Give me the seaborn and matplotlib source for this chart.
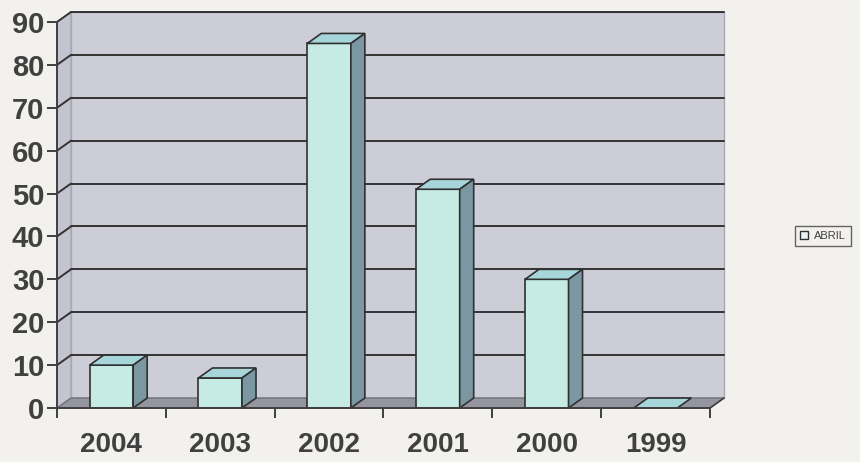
'''
3D style bar chart of ABRIL values per year
'''
import pandas as pd
import matplotlib.pyplot as plt
import seaborn as sns
from matplotlib.patches import Polygon, Patch

# Data
years = ['2004', '2003', '2002', '2001', '2000', '1999']
abril = [10, 7, 85, 51, 30, 0]
y_ticks = list(range(0, 100, 10))

df = pd.DataFrame({'Year': years, 'ABRIL': abril})

sns.set_style('white')
plt.rcParams['font.family'] = ['Liberation Sans', 'DejaVu Sans']

# colours
bg = '#f3f1ee'
wall = '#cdcdd8'
floor = '#95959f'
front = '#c6ebe4'
top = '#a6d6da'
side = '#7b98a2'
edge = '#303030'
text_col = '#404040'

fig = plt.figure(figsize=(8.6, 4.62), dpi=100, facecolor=bg)
ax = fig.add_axes([57 / 860, 1 - 408 / 462, 653 / 860, 386 / 462])

sns.barplot(data=df, x='Year', y='ABRIL', color=front, saturation=1,
            width=0.4, edgecolor=edge, linewidth=1.2, ax=ax, zorder=3)
bars = list(ax.patches)

ax.set_xlim(-0.5, 5.5)
ax.set_ylim(0, 90)
ax.patch.set_visible(False)

# depth of the 3D effect in data units (14 px right, 10 px up)
dx = 14 / (653 / 6)
dy = 10 / (386 / 90)
x0, x1 = -0.5, 5.5
ymax = 90

# back wall, left wall and floor
ax.add_patch(Polygon([(x0 + dx, dy), (x1 + dx, dy), (x1 + dx, ymax + dy), (x0 + dx, ymax + dy)],
                     closed=True, facecolor=wall, edgecolor='#a8a8b4', lw=1, zorder=0.5, clip_on=False))
ax.add_patch(Polygon([(x0, 0), (x0, ymax), (x0 + dx, ymax + dy), (x0 + dx, dy)],
                     closed=True, facecolor='#c3c4d0', edgecolor='#a8a8b4', lw=1, zorder=0.6, clip_on=False))
ax.add_patch(Polygon([(x0, 0), (x1, 0), (x1 + dx, dy), (x0 + dx, dy)],
                     closed=True, facecolor=floor, edgecolor='#707078', lw=1, zorder=0.7, clip_on=False))

# gridlines on the back wall plus diagonals on the left wall
for v in y_ticks[1:]:
    ax.plot([x0 + dx, x1 + dx], [v + dy, v + dy], color='#333333', lw=1.4, zorder=0.8, clip_on=False)
    ax.plot([x0, x0 + dx], [v, v + dy], color='#333333', lw=1.4, zorder=0.8, clip_on=False)
ax.plot([x1, x1 + dx], [0, dy], color='#404040', lw=1.2, zorder=0.8, clip_on=False)

# top and side faces of each bar
for b in bars:
    bx, by = b.get_x(), b.get_y()
    bw, bh = b.get_width(), b.get_height()
    ax.add_patch(Polygon([(bx, by + bh), (bx + bw, by + bh), (bx + bw + dx, by + bh + dy), (bx + dx, by + bh + dy)],
                         closed=True, facecolor=top, edgecolor=edge, lw=1.2, zorder=3, clip_on=False))
    if bh > 0:
        ax.add_patch(Polygon([(bx + bw, by), (bx + bw + dx, by + dy), (bx + bw + dx, by + bh + dy), (bx + bw, by + bh)],
                             closed=True, facecolor=side, edgecolor=edge, lw=1.2, zorder=3, clip_on=False))

# axes look
sns.despine(ax=ax, top=True, right=True)
for s in ['left', 'bottom']:
    ax.spines[s].set_color('#404040')
    ax.spines[s].set_linewidth(1.4)
    ax.spines[s].set_zorder(4)

ax.set_yticks(y_ticks)
ax.set_yticklabels([str(v) for v in y_ticks])
ax.set_xticks(range(len(years)))
ax.set_xticklabels(years)
ax.set_xticks([i - 0.5 for i in range(len(years) + 1)], minor=True)
ax.tick_params(axis='y', which='major', left=True, length=7, width=1.4, color='#404040',
               labelsize=21, labelcolor=text_col, pad=2)
ax.tick_params(axis='x', which='major', bottom=False, labelsize=20, labelcolor=text_col, pad=14)
ax.tick_params(axis='x', which='minor', bottom=True, length=7, width=1.4, color='#404040')
for lab in ax.get_xticklabels() + ax.get_yticklabels():
    lab.set_fontweight('bold')
ax.set_xlabel('')
ax.set_ylabel('')

# legend
handle = Patch(facecolor='#e8f4f2', edgecolor=edge, lw=1, label='ABRIL')
leg = fig.legend(handles=[handle], loc='center', bbox_to_anchor=(823 / 860, 1 - 236 / 462),
                 fontsize=8, frameon=True, fancybox=False, handlelength=0.7, handleheight=0.7,
                 handletextpad=0.5, borderpad=0.45)
leg.get_frame().set_edgecolor('#404040')
leg.get_frame().set_linewidth(1)
leg.get_frame().set_facecolor(bg)
for t in leg.get_texts():
    t.set_color(text_col)

plt.savefig('out.png', dpi=100, facecolor=bg)
plt.close()
